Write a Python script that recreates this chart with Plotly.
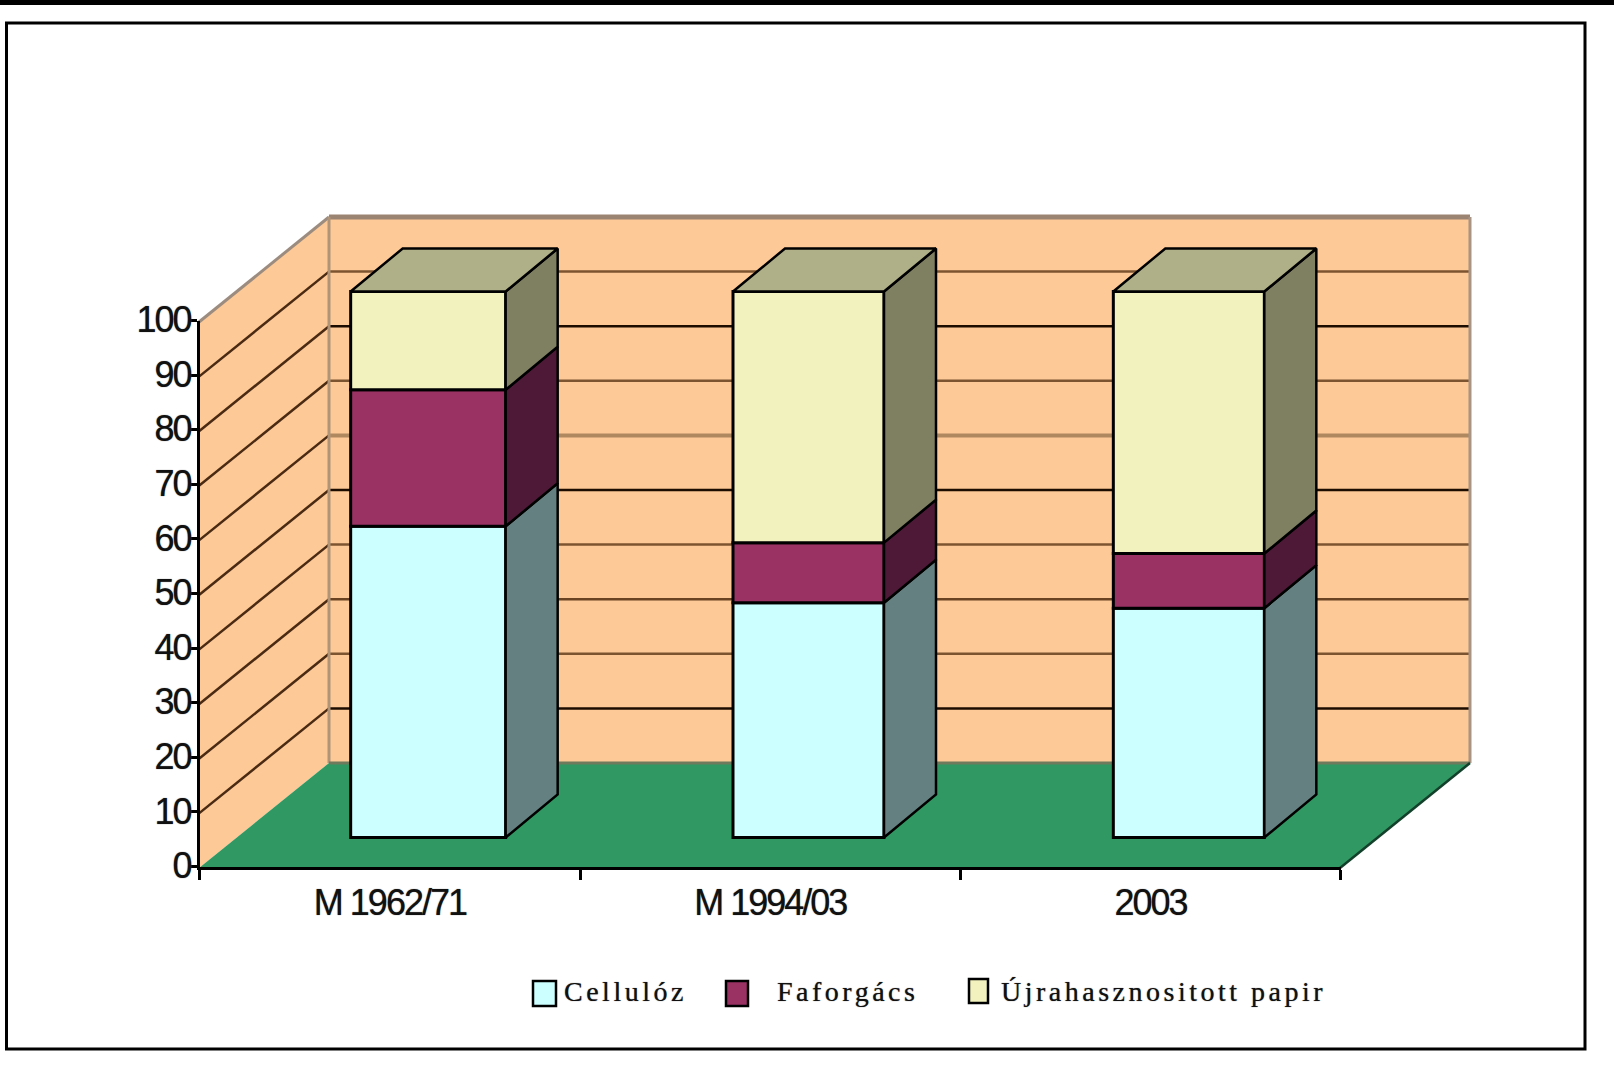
import plotly.graph_objects as go

categories = ["M 1962/71", "M 1994/03", "2003"]
series_names = ["Cellulóz", "Faforgács", "Újrahasznositott papir"]
cellulose = [57, 43, 42]
chips = [25, 11, 10]
recycled = [18, 46, 48]
y_ticks = list(range(0, 101, 10))

front_colors = ["#CCFFFF", "#9B3264", "#F2F2BE"]
side_colors = ["#648080", "#4E1937", "#7F7F62"]
top_color = "#B0B088"

# back wall lines came out of the scan in different shades
grid_styles = {
    10: ("#1c0c00", 2.5), 20: ("#7d5430", 2.5), 30: ("#6a4322", 2.5),
    40: ("#7d5430", 2.5), 50: ("#1c0c00", 2.5), 60: ("#b08860", 4),
    70: ("#7d5430", 2.5), 80: ("#1c0c00", 2.5), 90: ("#7d5430", 2.5),
}

# pixel layout of the picture
WIDTH, HEIGHT = 1614, 1074
LEFT, RIGHT, TOP, BOTTOM = 190, 1475, 212, 874
X0_PX, Y0_PX = 199, 868
PX_PER_CAT = 380.33
PX_PER_UNIT = 5.46
AXIS_NUDGE = 1.5  # plotly draws axis lines just outside the domain

# depth of the chart box and of the bars, in axis units
WALL_DX, WALL_DY = 130 / PX_PER_CAT, 105 / PX_PER_UNIT
BAR_SHIFT_X, BAR_SHIFT_Y = 39 / PX_PER_CAT, 30.5 / PX_PER_UNIT
BAR_DX, BAR_DY = 52 / PX_PER_CAT, 43 / PX_PER_UNIT
BAR_WIDTHS = [155 / PX_PER_CAT, 151 / PX_PER_CAT, 151 / PX_PER_CAT]


def paper_x(p):
    return (p - LEFT) / (RIGHT - LEFT)


def paper_y(p):
    return (BOTTOM - p) / (BOTTOM - TOP)


def path(points):
    return "M " + " L ".join(f"{x},{y}" for x, y in points) + " Z"


def data_shape(points, fill, line_color=None, line_width=0):
    return dict(
        type="path", xref="x", yref="y", layer="below", path=path(points),
        fillcolor=fill, line=dict(color=line_color or fill, width=line_width),
    )


def data_line(p0, p1, color, width):
    return dict(
        type="line", xref="x", yref="y", layer="below",
        x0=p0[0], y0=p0[1], x1=p1[0], y1=p1[1],
        line=dict(color=color, width=width),
    )


n_cats = len(categories)
shapes = []

# back wall, side wall, floor
shapes.append(data_shape(
    [(WALL_DX, WALL_DY), (n_cats + WALL_DX, WALL_DY),
     (n_cats + WALL_DX, 100 + WALL_DY), (WALL_DX, 100 + WALL_DY)],
    "#FDC996"))
shapes.append(data_shape(
    [(0, 0), (WALL_DX, WALL_DY), (WALL_DX, 100 + WALL_DY), (0, 100)],
    "#FDC996"))

for level in y_ticks[1:-1]:
    color, width = grid_styles[level]
    shapes.append(data_line((WALL_DX, level + WALL_DY), (n_cats + WALL_DX, level + WALL_DY), color, width))
    shapes.append(data_line((0, level), (WALL_DX, level + WALL_DY), "#4a2a12", 2.5))

shapes.append(data_line((WALL_DX, 100 + WALL_DY), (n_cats + WALL_DX, 100 + WALL_DY), "#9c8472", 5))
shapes.append(data_line((0, 100), (WALL_DX, 100 + WALL_DY), "#9c8c80", 3))
shapes.append(data_line((WALL_DX, WALL_DY), (WALL_DX, 100 + WALL_DY), "#b09478", 3))
shapes.append(data_line((n_cats + WALL_DX, WALL_DY), (n_cats + WALL_DX, 100 + WALL_DY), "#a89484", 3))
shapes.append(data_shape(
    [(0, 0), (n_cats, 0), (n_cats + WALL_DX, WALL_DY), (WALL_DX, WALL_DY)],
    "#309862"))
shapes.append(data_line((WALL_DX, WALL_DY), (n_cats + WALL_DX, WALL_DY), "#6f7a5c", 3))
shapes.append(data_line((n_cats, 0), (n_cats + WALL_DX, WALL_DY), "#12402a", 2.5))

fig = go.Figure()

# front faces
centers = [i + 0.5 + BAR_SHIFT_X for i in range(n_cats)]
stack = [BAR_SHIFT_Y] * n_cats
for name, values, color in zip(series_names, [cellulose, chips, recycled], front_colors):
    fig.add_trace(go.Bar(
        x=centers, y=values, base=stack, width=BAR_WIDTHS, name=name,
        marker=dict(color=color, line=dict(color="#000000", width=3)),
        showlegend=False,
    ))
    stack = [b + v for b, v in zip(stack, values)]

# side faces, then the top of each column
stack = [BAR_SHIFT_Y] * n_cats
for values, color in zip([cellulose, chips, recycled], side_colors):
    for i in range(n_cats):
        xr = centers[i] + BAR_WIDTHS[i] / 2
        low, high = stack[i], stack[i] + values[i]
        fig.add_trace(go.Scatter(
            x=[xr, xr + BAR_DX, xr + BAR_DX, xr, xr],
            y=[low, low + BAR_DY, high + BAR_DY, high, low],
            mode="lines", fill="toself", fillcolor=color,
            line=dict(color="#000000", width=2.5),
            showlegend=False, hoverinfo="skip",
        ))
    stack = [b + v for b, v in zip(stack, values)]

for i in range(n_cats):
    xl, xr = centers[i] - BAR_WIDTHS[i] / 2, centers[i] + BAR_WIDTHS[i] / 2
    fig.add_trace(go.Scatter(
        x=[xl, xr, xr + BAR_DX, xl + BAR_DX, xl],
        y=[stack[i], stack[i], stack[i] + BAR_DY, stack[i] + BAR_DY, stack[i]],
        mode="lines", fill="toself", fillcolor=top_color,
        line=dict(color="#000000", width=2.5),
        showlegend=False, hoverinfo="skip",
    ))

# second subplot only carries the visible axes, on the front plane of the box
fig.add_trace(go.Scatter(
    x=categories, y=[0] * n_cats, xaxis="x2", yaxis="y2", mode="markers",
    marker=dict(size=1, opacity=0), showlegend=False, hoverinfo="skip",
))

# legend drawn by hand, the swatches are much bigger than plotly's
legend_items = [
    (533, 556, 981, 1006, 562),
    (726, 748, 981, 1006, 775),
    (969, 988, 979, 1003, 999),
]
annotations = []
for name, color, (x0, x1, y0, y1, tx) in zip(series_names, front_colors, legend_items):
    shapes.append(dict(
        type="rect", xref="paper", yref="paper",
        x0=paper_x(x0), x1=paper_x(x1), y0=paper_y(y1), y1=paper_y(y0),
        fillcolor=color, line=dict(color="#000000", width=2.5),
    ))
    annotations.append(dict(
        xref="paper", yref="paper", x=paper_x(tx), y=paper_y(991),
        xanchor="left", yanchor="middle", align="left", showarrow=False,
        text=name,
        font=dict(family="Liberation Serif", size=28, color="#111111",
                  shadow="0 0 1px #555555"),
    ))

# outer frame and the black band at the top of the page
shapes.append(dict(
    type="rect", xref="paper", yref="paper",
    x0=paper_x(6.5), x1=paper_x(1585), y0=paper_y(1049), y1=paper_y(23),
    line=dict(color="#000000", width=3),
))
shapes.append(dict(
    type="rect", xref="paper", yref="paper",
    x0=paper_x(0), x1=paper_x(WIDTH), y0=paper_y(5), y1=paper_y(0),
    fillcolor="#000000", line=dict(width=0),
))

tick_font = dict(family="Liberation Sans", size=36, color="#111111",
                 shadow="0 0 1px #555555")

fig.update_layout(
    width=WIDTH, height=HEIGHT,
    margin=dict(l=LEFT, r=WIDTH - RIGHT, t=TOP, b=HEIGHT - BOTTOM, pad=0),
    paper_bgcolor="#FFFFFF", plot_bgcolor="rgba(0,0,0,0)",
    barmode="overlay", showlegend=False,
    shapes=shapes, annotations=annotations,
    xaxis=dict(
        range=[(LEFT - X0_PX) / PX_PER_CAT, (RIGHT - X0_PX) / PX_PER_CAT],
        visible=False, domain=[0, 1],
    ),
    yaxis=dict(
        range=[(Y0_PX - BOTTOM) / PX_PER_UNIT, (Y0_PX - TOP) / PX_PER_UNIT],
        visible=False, domain=[0, 1],
    ),
    xaxis2=dict(
        type="category", range=[-0.5, n_cats - 0.5], anchor="y2",
        domain=[paper_x(X0_PX + AXIS_NUDGE / 2),
                paper_x(X0_PX + AXIS_NUDGE / 2 + n_cats * PX_PER_CAT)],
        showline=True, linecolor="#000000", linewidth=3, showgrid=False,
        ticks="outside", ticklen=10, tickwidth=2.5, tickcolor="#000000",
        tickson="boundaries", tickfont=tick_font, ticklabelstandoff=2,
    ),
    yaxis2=dict(
        range=[0, 100], anchor="x2",
        domain=[paper_y(Y0_PX - AXIS_NUDGE),
                paper_y(Y0_PX - AXIS_NUDGE - 100 * PX_PER_UNIT)],
        showline=True, linecolor="#000000", linewidth=3, showgrid=False,
        tickmode="array", tickvals=y_ticks, ticks="outside", ticklen=8,
        tickwidth=2.5, tickcolor="#000000", tickfont=tick_font,
        zeroline=False, ticklabelstandoff=-9,
    ),
)

post_script = """
document.body.style.margin = '0';
document.querySelectorAll('.annotation-text').forEach(function (t) {
    t.style.letterSpacing = '3.5px';
});
document.querySelectorAll('.xtick text, .ytick text, .x2tick text, .y2tick text').forEach(function (t) {
    t.style.letterSpacing = '-2px';
});
document.querySelectorAll('.y2tick text').forEach(function (t) {
    t.setAttribute('dy', '-1');
});
"""

fig.write_html("out.html", post_script=post_script, config=dict(displayModeBar=False))
